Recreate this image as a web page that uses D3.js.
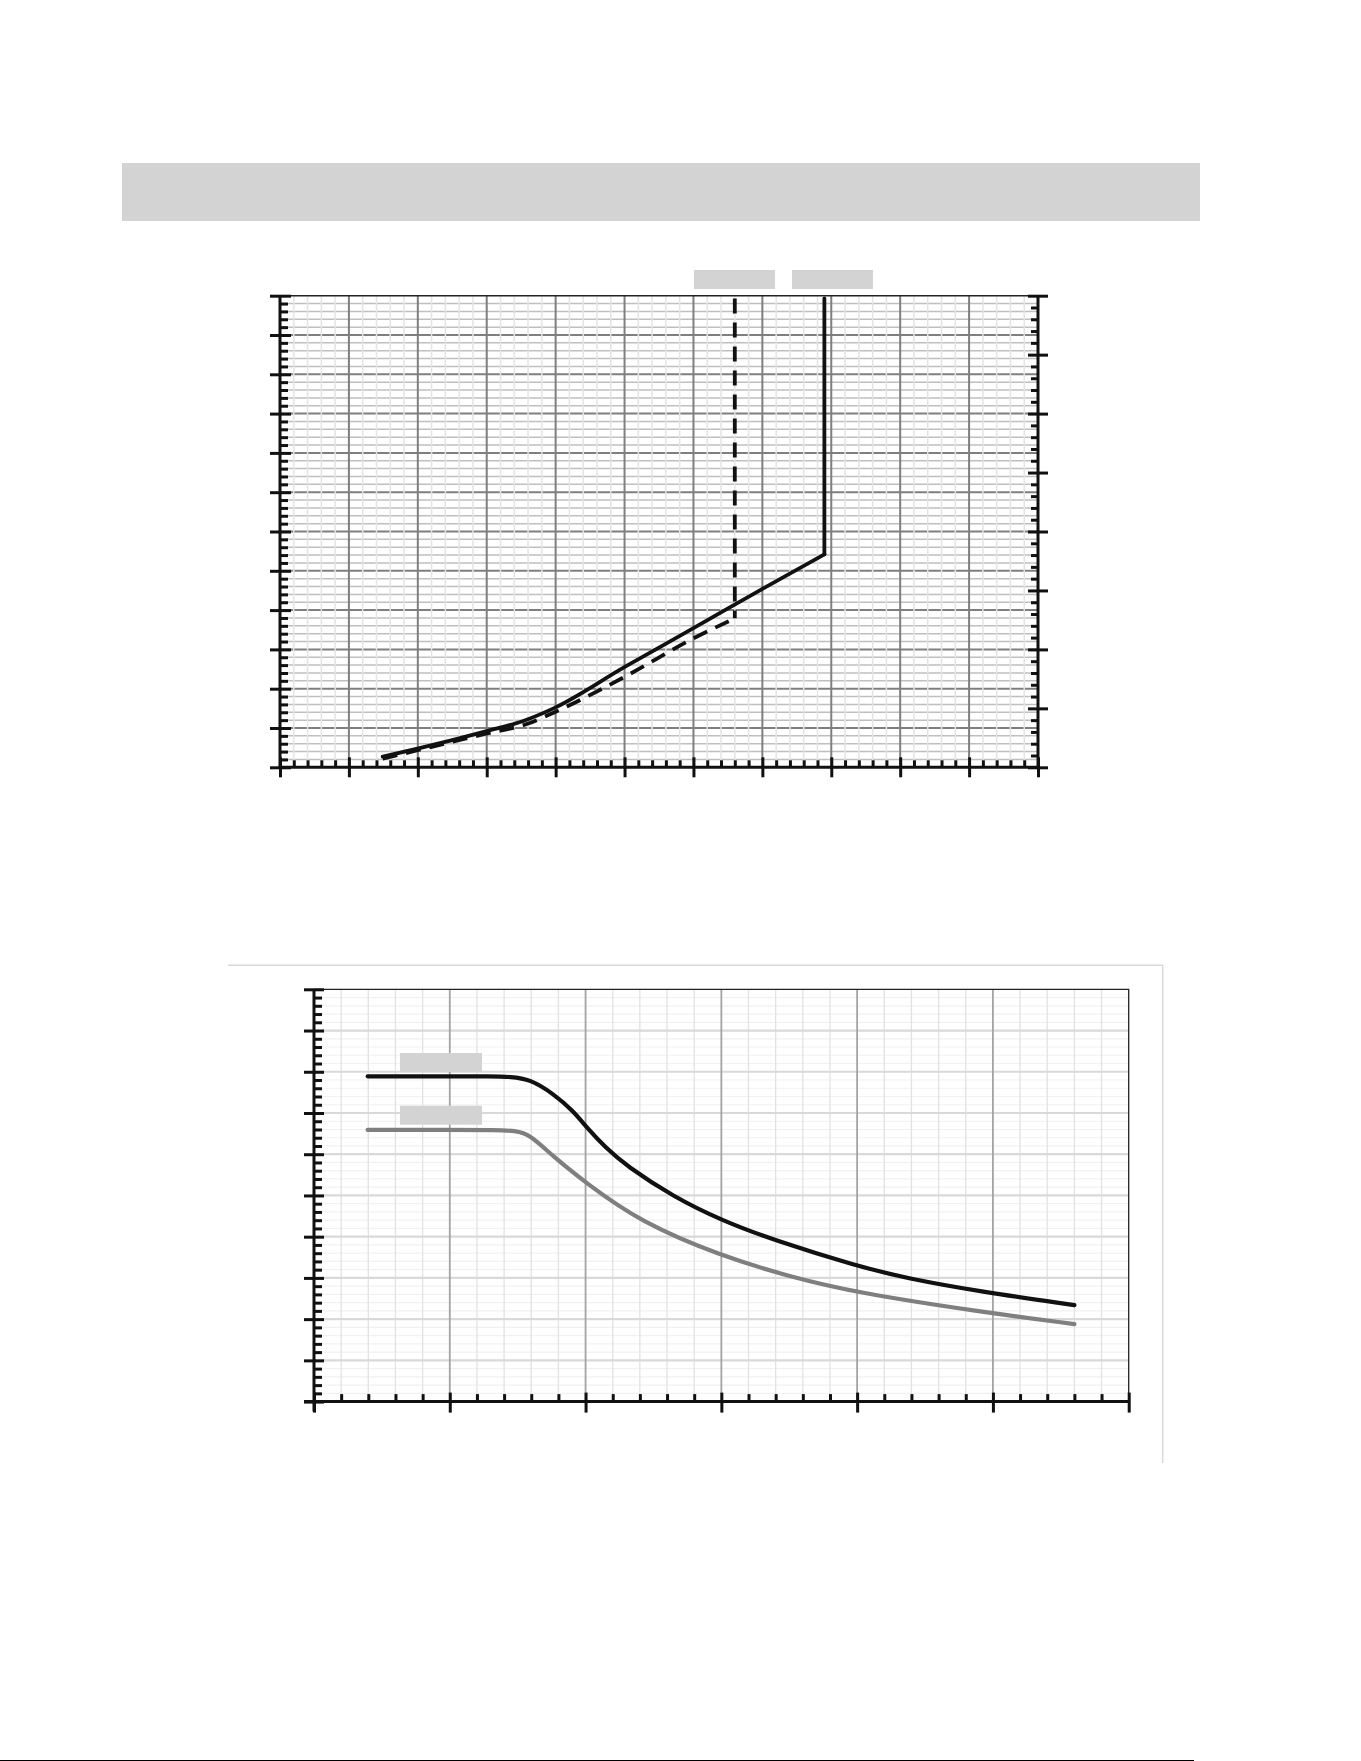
<!DOCTYPE html>
<html><head><meta charset="utf-8">
<script src="https://cdn.jsdelivr.net/npm/d3@7"></script>
<style>body{margin:0;background:#fff}svg{display:block}</style>
</head><body>
<svg id="c" width="1361" height="1761"></svg>
<script>
// ---------- Chart 1 data ----------
const c1SolidX = [14.9, 20.1, 25.0, 30.0, 35.3, 39.7, 50.1, 60.0, 69.7, 79.0, 79.0];
const c1SolidY = [2.7, 4.8, 6.9, 9.2, 11.8, 15.0, 25.6, 35.4, 45.1, 54.2, 119.3];
const c1DashX  = [14.9, 22.0, 30.0, 35.8, 39.7, 50.1, 60.0, 66.0, 66.0];
const c1DashY  = [2.2, 5.2, 8.6, 11.0, 13.9, 23.1, 32.8, 37.9, 119.3];
const c1XMajor = [0,10,20,30,40,50,60,70,80,90,100,110];
const c1YLMajor = [0,10,20,30,40,50,60,70,80,90,100,110,120];
const c1YRMajor = [0,10,20,30,40,50,60,70,80];
const c1Legend = ["", ""];

// ---------- Chart 2 data ----------
const c2BlackX = [0.395, 1.000, 1.300, 1.450, 1.590, 1.762, 1.909, 2.008, 2.150, 2.300, 2.646, 2.999, 3.382, 3.998, 4.364, 4.904, 5.600];
const c2BlackY = [7.89, 7.89, 7.89, 7.88, 7.82, 7.47, 7.05, 6.65, 6.15, 5.72, 4.97, 4.40, 3.92, 3.29, 2.99, 2.67, 2.34];
const c2GrayX  = [0.395, 1.000, 1.345, 1.480, 1.590, 1.762, 2.008, 2.401, 2.999, 3.505, 3.998, 4.904, 5.600];
const c2GrayY  = [6.59, 6.59, 6.59, 6.57, 6.48, 5.94, 5.29, 4.36, 3.53, 3.03, 2.64, 2.18, 1.88];
const c2XMajor = [0,1,2,3,4,5,6];
const c2YMajor = [0,1,2,3,4,5,6,7,8,9,10];

const svg = d3.select("#c");

// title placeholder box
svg.append("rect").attr("x",122).attr("y",163).attr("width",1078).attr("height",58).attr("fill","#d3d3d3");

function minorVals(majors, n){
  const out=[];
  for(let i=0;i<majors.length-1;i++){
    const a=majors[i], b=majors[i+1];
    for(let k=1;k<n;k++) out.push(a+(b-a)*k/n);
  }
  return out;
}

// ================= CHART 1 =================
const x1 = d3.scaleLinear().domain([0,110]).range([280,1038]);
const y1 = d3.scaleLinear().domain([0,120]).range([767.3,295.7]);
const y1r = d3.scaleLinear().domain([0,80]).range([767.3,295.7]);
const g1 = svg.append("g");

g1.selectAll(".hmin").data(minorVals(c1YLMajor,5)).join("line")
  .attr("x1",x1(0)).attr("x2",x1(110)).attr("y1",d=>y1(d)).attr("y2",d=>y1(d))
  .attr("stroke","#bfbfbf").attr("stroke-width",1.5);
g1.selectAll(".hmaj").data(c1YLMajor.slice(1,-1)).join("line")
  .attr("x1",x1(0)).attr("x2",x1(110)).attr("y1",d=>y1(d)).attr("y2",d=>y1(d))
  .attr("stroke","#7f7f7f").attr("stroke-width",2);
g1.selectAll(".vmin").data(minorVals(c1XMajor,5)).join("line")
  .attr("x1",d=>x1(d)).attr("x2",d=>x1(d)).attr("y1",y1(0)).attr("y2",y1(120))
  .attr("stroke","#e4e4e4").attr("stroke-width",1.5);
g1.selectAll(".vmaj").data(c1XMajor.slice(1,-1)).join("line")
  .attr("x1",d=>x1(d)).attr("x2",d=>x1(d)).attr("y1",y1(0)).attr("y2",y1(120))
  .attr("stroke","#7f7f7f").attr("stroke-width",2);
g1.append("line").attr("x1",x1(0)).attr("x2",x1(110)).attr("y1",y1(120)).attr("y2",y1(120))
  .attr("stroke","#222").attr("stroke-width",1.5);

function styleAxis(g){ g.select(".domain").remove(); g.selectAll("text").remove(); g.selectAll("line").attr("stroke","#111").attr("stroke-width",3); }
const axB1 = g1.append("g").attr("transform",`translate(0,${y1(0)})`);
axB1.call(d3.axisBottom(x1).tickValues(c1XMajor).tickSize(10).tickSizeOuter(0).tickFormat(""));
styleAxis(axB1); axB1.selectAll("line").attr("y1",-10).attr("y2",10);
const axB1m = g1.append("g").attr("transform",`translate(0,${y1(0)})`);
axB1m.call(d3.axisBottom(x1).tickValues(minorVals(c1XMajor,5)).tickSize(-7).tickSizeOuter(0).tickFormat(""));
styleAxis(axB1m);
const axL1 = g1.append("g").attr("transform",`translate(${x1(0)},0)`);
axL1.call(d3.axisLeft(y1).tickValues(c1YLMajor).tickSize(10).tickSizeOuter(0).tickFormat(""));
styleAxis(axL1); axL1.selectAll("line").attr("x1",11).attr("x2",-10);
const axL1m = g1.append("g").attr("transform",`translate(${x1(0)},0)`);
axL1m.call(d3.axisLeft(y1).tickValues(minorVals(c1YLMajor,5)).tickSize(-8).tickSizeOuter(0).tickFormat(""));
styleAxis(axL1m);
const axR1 = g1.append("g").attr("transform",`translate(${x1(110)},0)`);
axR1.call(d3.axisRight(y1r).tickValues(c1YRMajor).tickSize(10).tickSizeOuter(0).tickFormat(""));
styleAxis(axR1); axR1.selectAll("line").attr("x1",-10).attr("x2",10);
const axR1m = g1.append("g").attr("transform",`translate(${x1(110)},0)`);
axR1m.call(d3.axisRight(y1r).tickValues(minorVals(c1YRMajor,5)).tickSize(-7).tickSizeOuter(0).tickFormat(""));
styleAxis(axR1m);
g1.append("line").attr("x1",x1(0)-1.5).attr("x2",x1(110)+1.5).attr("y1",y1(0)).attr("y2",y1(0)).attr("stroke","#111").attr("stroke-width",3);
g1.append("line").attr("x1",x1(0)).attr("x2",x1(0)).attr("y1",y1(0)).attr("y2",y1(120)).attr("stroke","#111").attr("stroke-width",3);
g1.append("line").attr("x1",x1(110)).attr("x2",x1(110)).attr("y1",y1(0)).attr("y2",y1(120)).attr("stroke","#111").attr("stroke-width",3);

const line1c = d3.line().x(d=>x1(d[0])).y(d=>y1(d[1])).curve(d3.curveMonotoneX);
const line1s = d3.line().x(d=>x1(d[0])).y(d=>y1(d[1]));
const dashPts = c1DashX.map((v,i)=>[v,c1DashY[i]]);
const solidPts = c1SolidX.map((v,i)=>[v,c1SolidY[i]]);
const dashStyle = p => p.attr("fill","none").attr("stroke","#111").attr("stroke-width",3.8).attr("stroke-dasharray","15,9");
g1.append("path").datum(dashPts.slice(0,-1)).attr("d",line1c).call(dashStyle);
g1.append("path").datum(dashPts.slice(-2).reverse()).attr("d",line1s).call(dashStyle);
const solidStyle = p => p.attr("fill","none").attr("stroke","#111").attr("stroke-width",3.8).attr("stroke-linejoin","round").attr("stroke-linecap","round");
g1.append("path").datum(solidPts.slice(0,-1)).attr("d",line1c).call(solidStyle);
g1.append("path").datum(solidPts.slice(-2)).attr("d",line1s).call(solidStyle);

g1.selectAll(".lg").data(c1Legend).join("rect")
  .attr("x",(d,i)=>694+i*98).attr("y",270).attr("width",81).attr("height",19).attr("fill","#d3d3d3");

// ================= CHART 2 =================
const x2 = d3.scaleLinear().domain([0,6]).range([314,1128.7]);
const y2 = d3.scaleLinear().domain([0,10]).range([1401.6,989.3]);
const g2 = svg.append("g");

g2.append("path").attr("d","M228,965.3 H1162.7 V1463").attr("fill","none").attr("stroke","#d9d9d9").attr("stroke-width",1.5);

g2.selectAll(".hmin").data(minorVals(c2YMajor,5)).join("line")
  .attr("x1",x2(0)).attr("x2",x2(6)).attr("y1",d=>y2(d)).attr("y2",d=>y2(d))
  .attr("stroke","#f1f1f1").attr("stroke-width",1.2);
g2.selectAll(".vmin").data(minorVals(c2XMajor,5)).join("line")
  .attr("x1",d=>x2(d)).attr("x2",d=>x2(d)).attr("y1",y2(0)).attr("y2",y2(10))
  .attr("stroke","#e2e2e2").attr("stroke-width",1.3);
g2.selectAll(".hmaj").data(c2YMajor.slice(1,-1)).join("line")
  .attr("x1",x2(0)).attr("x2",x2(6)).attr("y1",d=>y2(d)).attr("y2",d=>y2(d))
  .attr("stroke","#d9d9d9").attr("stroke-width",2.2);
g2.selectAll(".vmaj").data(c2XMajor.slice(1,-1)).join("line")
  .attr("x1",d=>x2(d)).attr("x2",d=>x2(d)).attr("y1",y2(0)).attr("y2",y2(10))
  .attr("stroke","#a3a3a3").attr("stroke-width",1.8);
g2.append("path").attr("d",`M${x2(0)},${y2(10)} H${x2(6)} V${y2(0)}`).attr("fill","none").attr("stroke","#222").attr("stroke-width",1.3);

const axB2 = g2.append("g").attr("transform",`translate(0,${y2(0)})`);
axB2.call(d3.axisBottom(x2).tickValues(c2XMajor).tickSize(10).tickSizeOuter(0).tickFormat(""));
styleAxis(axB2); axB2.selectAll("line").attr("y1",-9).attr("y2",11);
const axB2m = g2.append("g").attr("transform",`translate(0,${y2(0)})`);
axB2m.call(d3.axisBottom(x2).tickValues(minorVals(c2XMajor,5)).tickSize(-7.5).tickSizeOuter(0).tickFormat(""));
styleAxis(axB2m);
const axL2 = g2.append("g").attr("transform",`translate(${x2(0)},0)`);
axL2.call(d3.axisLeft(y2).tickValues(c2YMajor).tickSize(10).tickSizeOuter(0).tickFormat(""));
styleAxis(axL2); axL2.selectAll("line").attr("x1",10).attr("x2",-10);
const axL2m = g2.append("g").attr("transform",`translate(${x2(0)},0)`);
axL2m.call(d3.axisLeft(y2).tickValues(minorVals(c2YMajor,5)).tickSize(-8).tickSizeOuter(0).tickFormat(""));
styleAxis(axL2m);
g2.append("line").attr("x1",x2(0)-10).attr("x2",x2(6)+1).attr("y1",y2(0)).attr("y2",y2(0)).attr("stroke","#111").attr("stroke-width",3);
g2.append("line").attr("x1",x2(0)).attr("x2",x2(0)).attr("y1",y2(0)+10).attr("y2",y2(10)).attr("stroke","#111").attr("stroke-width",3);

const line2 = d3.line().x(d=>x2(d[0])).y(d=>y2(d[1])).curve(d3.curveBasis);
g2.append("path").datum(c2GrayX.map((v,i)=>[v,c2GrayY[i]]))
  .attr("d",line2).attr("fill","none").attr("stroke","#7f7f7f").attr("stroke-width",4.2).attr("stroke-linecap","round");
g2.append("path").datum(c2BlackX.map((v,i)=>[v,c2BlackY[i]]))
  .attr("d",line2).attr("fill","none").attr("stroke","#111").attr("stroke-width",4.2).attr("stroke-linecap","round");

g2.selectAll(".lg").data(["",""]).join("rect")
  .attr("x",400).attr("y",(d,i)=>1053+i*52.7).attr("width",82).attr("height",19).attr("fill","#d3d3d3");

svg.append("line").attr("x1",0).attr("x2",1194).attr("y1",1760.5).attr("y2",1760.5).attr("stroke","#000").attr("stroke-width",1);
</script>
</body></html>
